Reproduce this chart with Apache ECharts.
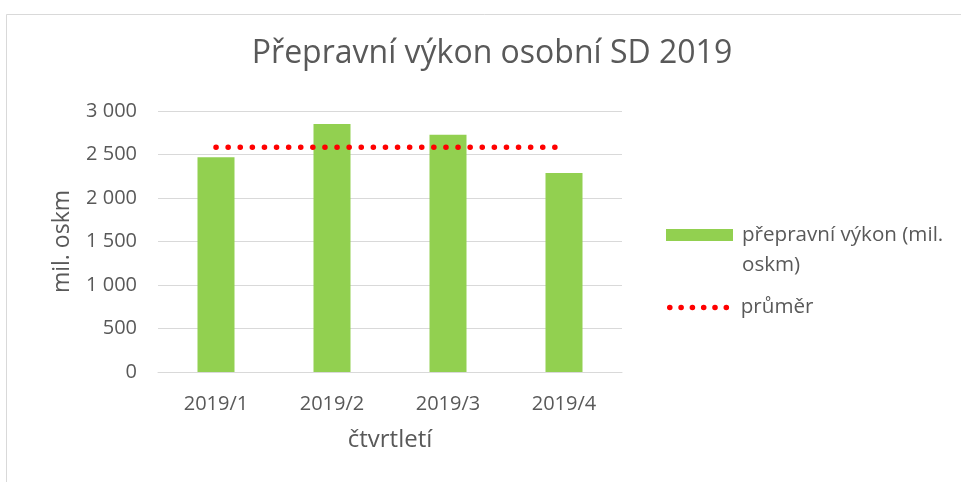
<!DOCTYPE html>
<html>
<head>
<meta charset="utf-8">
<script src="https://cdn.jsdelivr.net/npm/echarts@6/dist/echarts.min.js"></script>
<style>
html,body{margin:0;padding:0;background:#fff;}
#chart{width:961px;height:482px;}
</style>
</head>
<body>
<div id="chart"></div>
<script>
const categories = ['2019/1', '2019/2', '2019/3', '2019/4'];
const vykonValues = [2468, 2851, 2728, 2287];
const prumerValues = [2584, 2584, 2584, 2584];
const yTicks = [0, 500, 1000, 1500, 2000, 2500, 3000];
const seriesNames = ['přepravní výkon (mil. oskm)', 'průměr'];

const font = 'Open Sans';
const txt = '#595959';
const chart = echarts.init(document.getElementById('chart'), null, {renderer: 'canvas'});
chart.setOption({
  animation: false,
  backgroundColor: '#fff',
  graphic: [{
    type: 'rect', left: 4, top: 12, silent: true,
    shape: {x: 0, y: 0, width: 1000, height: 520},
    style: {fill: 'none', stroke: '#d9d9d9', lineWidth: 1}
  }],
  title: {
    text: 'Přepravní výkon osobní SD 2019',
    left: 492, top: 38, textAlign: 'center', padding: 0,
    textStyle: {fontFamily: font, fontSize: 32, fontWeight: 'normal', color: txt}
  },
  grid: {left: 158, right: 339, top: 111, bottom: 110, containLabel: false},
  legend: [{
    data: [{name: seriesNames[0], icon: 'rect'}], orient: 'vertical', left: 666, top: 190, padding: 0,
    itemWidth: 67, itemHeight: 12, itemGap: 9,
    formatter: n => '\n' + n.replace('(mil. ', '(mil.\n'),
    textStyle: {fontFamily: font, fontSize: 20.6, color: txt, lineHeight: 30, padding: [0, 0, 0, 4]}
  }, {
    data: [seriesNames[1]], orient: 'vertical', left: 667, top: 297, padding: 0,
    itemWidth: 58, itemHeight: 12, itemGap: 16,
    itemStyle: {color: 'rgba(0,0,0,0)', borderWidth: 0, opacity: 0},
    lineStyle: {color: '#ff0000', width: 5.5, type: [0.1, 11.2], cap: 'round', opacity: 1},
    textStyle: {fontFamily: font, fontSize: 20.6, color: txt, padding: [0, 0, 0, 8]}
  }],
  xAxis: {
    type: 'category', data: categories,
    axisLine: {show: true, lineStyle: {color: '#d9d9d9', width: 1}},
    axisTick: {show: false},
    axisLabel: {fontFamily: font, fontSize: 20, color: txt, margin: 22},
    name: 'čtvrtletí', nameLocation: 'middle', nameGap: 56,
    nameTextStyle: {fontFamily: font, fontSize: 24, color: txt}
  },
  yAxis: {
    type: 'value', min: 0, max: 3000, interval: 500,
    axisLine: {show: false}, axisTick: {show: false},
    splitLine: {lineStyle: {color: '#d9d9d9', width: 1}},
    axisLabel: {fontFamily: font, fontSize: 20, color: txt, margin: 21,
      formatter: v => yTicks.includes(v) ? String(v).replace(/\B(?=(\d{3})+(?!\d))/g, ' ') : ''},
    name: 'mil. oskm', nameLocation: 'middle', nameGap: 84, nameRotate: 90,
    nameTextStyle: {fontFamily: font, fontSize: 23, color: txt}
  },
  series: [{
    name: seriesNames[0], type: 'bar', data: vykonValues, barWidth: 37,
    itemStyle: {color: '#92d050'}
  }, {
    name: seriesNames[1], type: 'line', data: prumerValues, symbol: 'none',
    lineStyle: {color: '#ff0000', width: 5.5, type: [0.1, 12], cap: 'round'},
    itemStyle: {color: '#ff0000'}
  }]
});
</script>
</body>
</html>
